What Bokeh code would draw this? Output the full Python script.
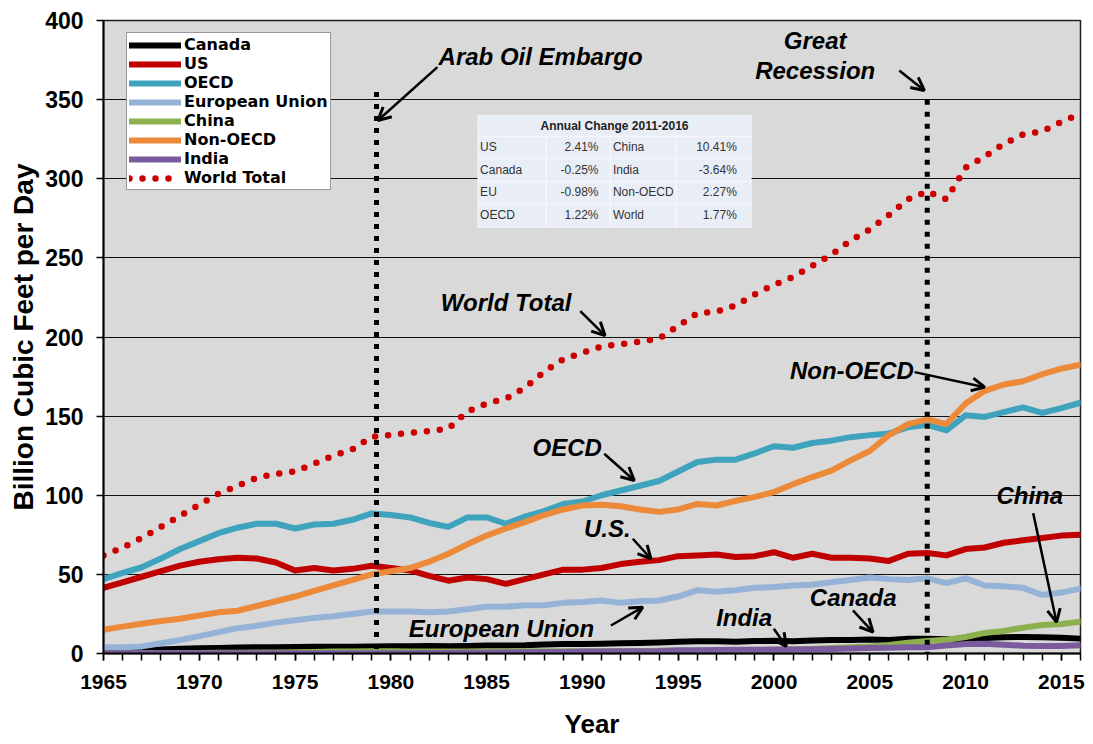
from bokeh.plotting import figure
from bokeh.models import (Range1d, SingleIntervalTicker, Label, Arrow, OpenHead,
                          BoxAnnotation, Legend, LegendItem, ColumnDataSource, Title)
from bokeh.embed import file_html
from bokeh.resources import INLINE

# ---------------- data (billion cubic feet per day) ----------------
years = list(range(1965, 2017))

canada = [1.5, 1.8, 2.2, 2.6, 3.0, 3.3, 3.5, 3.8, 4.0, 4.0,
          4.1, 4.2, 4.3, 4.3, 4.5, 4.6, 4.6, 4.7, 4.6, 4.8,
          5.1, 5.0, 5.2, 5.7, 6.0, 6.0, 6.1, 6.4, 6.7, 7.0,
          7.4, 7.7, 7.7, 7.5, 7.9, 8.0, 7.8, 8.2, 8.5, 8.6,
          8.8, 8.6, 9.3, 9.3, 9.0, 9.0, 9.8, 10.3, 10.4, 10.2,
          10.0, 9.4]
us = [41.5, 45, 48.5, 52, 55.5, 58, 59.5, 60.5, 60, 57.5,
      52.5, 54, 52.5, 53.5, 55.5, 54, 52.5, 49, 46, 48,
      47, 44, 47, 50, 53, 53, 54, 56.5, 58, 59,
      61.5, 62, 62.5, 61, 61.5, 64, 60.5, 63, 60.5, 60.5,
      60, 58.5, 63, 63.5, 62, 66, 67, 70, 71.5, 73,
      74.5, 75]
oecd = [47, 51, 54.5, 60, 66, 71, 76, 79.5, 82, 82,
        79, 81.5, 82, 84.5, 88.5, 87.5, 86, 82.5, 80, 86,
        86, 82, 86.5, 90, 94.5, 96, 100, 103, 106, 109,
        115, 121, 122.5, 122.5, 126.5, 131, 130, 133, 134.5, 136.7,
        138, 139, 143, 144.5, 141, 150.5, 149.5, 152.5, 155.5, 152,
        155, 158.5]
eu = [4, 4, 4.5, 6.5, 8.5, 11, 13.5, 16, 17.5, 19.5,
      21, 22.5, 23.5, 25, 26.5, 26.5, 26.5, 26, 26.5, 28,
      29.5, 29.5, 30.5, 30.5, 32, 32.5, 33.5, 32, 33, 33.5,
      36, 40, 39, 40, 41.5, 42, 43, 43.5, 45, 46.5,
      48, 47, 46.5, 47.5, 44.5, 47.5, 43, 42.5, 41.5, 37,
      38.5, 41]
china = [0.1, 0.1, 0.2, 0.2, 0.3, 0.3, 0.4, 0.5, 0.6, 0.7,
         0.8, 1.0, 1.2, 1.3, 1.4, 1.4, 1.3, 1.2, 1.2, 1.2,
         1.3, 1.3, 1.4, 1.4, 1.5, 1.5, 1.5, 1.5, 1.6, 1.7,
         1.7, 1.8, 1.9, 1.9, 2.1, 2.4, 2.7, 2.8, 3.4, 3.9,
         4.5, 5.4, 6.8, 7.9, 8.7, 10.4, 13.0, 14.3, 16.3, 18.0,
         18.6, 20.0]
non_oecd = [15, 17, 18.8, 20.5, 22, 24, 26, 27, 30, 33,
            36, 39.5, 43, 46.5, 50, 52, 54, 58, 63, 69,
            74.5, 79, 83, 87.5, 91, 93.5, 94, 93, 91, 89.5,
            91, 94.5, 93.5, 96.5, 99, 102, 107, 111.5, 115.5, 122,
            128, 138, 145, 148, 145, 158, 166, 170, 172, 176.5,
            180, 182.5]
india = [0.1, 0.1, 0.1, 0.1, 0.1, 0.1, 0.1, 0.1, 0.1, 0.1,
         0.2, 0.2, 0.2, 0.2, 0.2, 0.1, 0.2, 0.3, 0.3, 0.4,
         0.4, 0.6, 0.8, 0.9, 1.0, 1.2, 1.2, 1.4, 1.5, 1.6,
         2.0, 2.1, 2.2, 2.3, 2.3, 2.5, 2.6, 2.7, 2.9, 3.1,
         3.5, 3.6, 3.9, 4.0, 5.0, 6.0, 6.2, 5.6, 4.9, 4.8,
         4.8, 5.2]
world = [62, 67, 73, 80, 87, 94, 101, 106, 111, 113.5,
         115, 120, 125, 129, 137, 138, 139.5, 140.5, 142, 153,
         158, 161, 168, 178, 186, 190, 194, 195.5, 197, 199,
         207, 215, 216, 220, 227, 233, 238, 245, 252, 261,
         268, 277, 287, 292, 287, 307, 314, 322, 328, 330,
         336, 341]

series_names = ["Canada", "US", "OECD", "European Union", "China",
                "Non-OECD", "India", "World Total"]
series_values = [canada, us, oecd, eu, china, non_oecd, india, world]

table_title = "Annual Change 2011-2016"
tbl_left_names = ["US", "Canada", "EU", "OECD"]
tbl_left_vals = ["2.41%", "-0.25%", "-0.98%", "1.22%"]
tbl_right_names = ["China", "India", "Non-OECD", "World"]
tbl_right_vals = ["10.41%", "-3.64%", "2.27%", "1.77%"]

# ---------------- styling ----------------
colors = ["#000000", "#c00000", "#3fa3bd", "#95b3d7", "#8db04f",
          "#ec8a3a", "#7a5c9e", "#cc0000"]
FONT = "Liberation Sans"

p = figure(width=1092, height=744, output_backend="svg", toolbar_location=None,
           x_range=Range1d(1965, 2016), y_range=Range1d(0, 400),
           min_border_left=103, min_border_right=12, min_border_top=20,
           min_border_bottom=91)
p.background_fill_color = "#d9d9d9"
p.border_fill_color = "white"
p.outline_line_color = "#222222"
p.outline_line_width = 1.5

p.xgrid.grid_line_color = None
p.ygrid.grid_line_color = "#111111"
p.ygrid.grid_line_width = 1.2

p.xaxis.ticker = SingleIntervalTicker(interval=5, num_minor_ticks=5)
p.yaxis.ticker = SingleIntervalTicker(interval=50, num_minor_ticks=0)
for ax in (p.xaxis, p.yaxis):
    ax.axis_line_color = "black"
    ax.axis_line_width = 2
    ax.major_tick_line_color = "black"
    ax.major_tick_line_width = 1.5
    ax.major_tick_in = 0
    ax.major_tick_out = 7
    ax.minor_tick_line_color = "black"
    ax.minor_tick_line_width = 1.5
    ax.minor_tick_in = 0
    ax.minor_tick_out = 7
    ax.major_label_text_font = FONT
    ax.major_label_text_font_style = "bold"
    ax.major_label_text_color = "black"
    ax.axis_label_text_font = FONT
    ax.axis_label_text_font_style = "bold"
    ax.axis_label_text_color = "black"
p.xaxis.major_label_text_font_size = "21px"
p.yaxis.major_label_text_font_size = "23px"
p.xaxis.axis_label_text_font_size = "26px"
p.xaxis.axis_label = "Year"
p.xaxis.major_label_standoff = 14
p.xaxis.axis_label_standoff = 17
p.yaxis.major_label_standoff = 13

# y-axis title, shifted slightly upward as in the original
p.add_layout(Title(text="Billion Cubic Feet per Day", align="center", offset=24,
                   text_font=FONT, text_font_style="bold", text_font_size="28px",
                   text_color="black", standoff=8), "left")

# ---------------- series ----------------
items = []
for name, vals, col in zip(series_names, series_values, colors):
    src = ColumnDataSource(dict(x=years, y=vals))
    if name == "World Total":
        r = p.line("x", "y", source=src, line_color=col, line_width=6.5,
                   line_dash="0 13", line_cap="round")
    else:
        r = p.line("x", "y", source=src, line_color=col, line_width=6,
                   line_join="round", line_cap="round")
    items.append(LegendItem(label=name, renderers=[r]))

legend = Legend(items=items, location=(23, 463))
legend.label_text_font = "DejaVu Sans"
legend.label_text_font_style = "bold"
legend.label_text_font_size = "16px"
legend.label_text_color = "black"
legend.glyph_width = 52
legend.glyph_height = 18
legend.label_height = 18
legend.spacing = 0
legend.padding = 2
legend.margin = 0
legend.label_standoff = 3
legend.border_line_color = "#333333"
legend.border_line_width = 1.5
legend.background_fill_color = "white"
legend.background_fill_alpha = 1
p.add_layout(legend)

# ---------------- event lines ----------------
for xv, ytop in [(1979.25, 354.8), (2008.0, 350.0)]:
    p.add_layout(Arrow(end=None, x_start=xv, y_start=ytop, x_end=xv, y_end=0,
                       line_color="black", line_width=5, line_dash="5 7"))

# ---------------- annotations ----------------
def note(text, x, y, align="left"):
    p.add_layout(Label(x=x, y=y, text=text, text_font=FONT,
                       text_font_style="bold italic", text_font_size="24px",
                       text_color="black", text_align=align,
                       text_baseline="middle"))

def arrow(x0, y0, x1, y1):
    p.add_layout(Arrow(end=OpenHead(size=13, line_width=3, line_color="black"),
                       x_start=x0, y_start=y0, x_end=x1, y_end=y1,
                       line_color="black", line_width=2.5))

note("Arab Oil Embargo", 1982.49, 377.3)
arrow(1982.43, 370.5, 1979.32, 336.8)
note("Great", 2002.15, 387.4, "center")
note("Recession", 2002.15, 368.4, "center")
arrow(2006.54, 368.4, 2007.85, 355.8)
note("World Total", 1982.61, 222.0)
arrow(1989.89, 216.3, 1991.18, 200.9)
note("OECD", 1987.4, 130.4)
arrow(1991.14, 126.2, 1992.71, 109.3)
note("Non-OECD", 2000.83, 178.8)
arrow(2007.34, 177.8, 2011.0, 168.3)
note("U.S.", 1990.08, 79.0)
arrow(1992.63, 72.5, 1993.58, 59.8)
note("European Union", 1980.94, 15.8)
arrow(1991.49, 17.7, 1993.15, 29.3)
note("India", 1996.98, 22.7)
arrow(1999.99, 15.6, 2000.64, 4.4)
note("Canada", 2001.87, 35.4)
arrow(2004.12, 27.2, 2005.17, 13.5)
note("China", 2011.61, 99.8)
arrow(2013.53, 88.7, 2014.75, 19.8)

# ---------------- summary table ----------------
col_edges = [1984.54, 1988.10, 1991.44, 1994.89, 1998.81]
row_edges = [340.0, 326.7, 312.8, 298.3, 284.4, 269.2]
p.add_layout(BoxAnnotation(left=col_edges[0], right=col_edges[-1],
                           top=row_edges[0], bottom=row_edges[-1],
                           fill_color="#e9eef6", fill_alpha=1,
                           line_color="#ffffff", line_width=1))
p.add_layout(BoxAnnotation(left=col_edges[0], right=col_edges[-1],
                           top=row_edges[0], bottom=row_edges[1],
                           fill_alpha=0, line_color="#ffffff", line_width=1.5))
for i in range(1, 5):
    for j in range(4):
        p.add_layout(BoxAnnotation(left=col_edges[j], right=col_edges[j + 1],
                                   top=row_edges[i], bottom=row_edges[i + 1],
                                   fill_alpha=0, line_color="#ffffff",
                                   line_width=1.5))
p.add_layout(Label(x=(col_edges[0] + col_edges[-1]) / 2,
                   y=(row_edges[0] + row_edges[1]) / 2, text=table_title,
                   text_font=FONT, text_font_style="bold", text_font_size="12px",
                   text_color="#222222", text_align="center",
                   text_baseline="middle"))
cell_style = dict(text_font=FONT, text_font_size="12px", text_color="#333333",
                  text_baseline="middle")
for i in range(4):
    yc = (row_edges[i + 1] + row_edges[i + 2]) / 2
    p.add_layout(Label(x=col_edges[0] + 0.12, y=yc, text=tbl_left_names[i],
                       text_align="left", **cell_style))
    p.add_layout(Label(x=col_edges[2] - 0.6, y=yc, text=tbl_left_vals[i],
                       text_align="right", **cell_style))
    p.add_layout(Label(x=col_edges[2] + 0.15, y=yc, text=tbl_right_names[i],
                       text_align="left", **cell_style))
    p.add_layout(Label(x=col_edges[4] - 0.75, y=yc, text=tbl_right_vals[i],
                       text_align="right", **cell_style))

open("out.html", "w").write(file_html(p, INLINE))
